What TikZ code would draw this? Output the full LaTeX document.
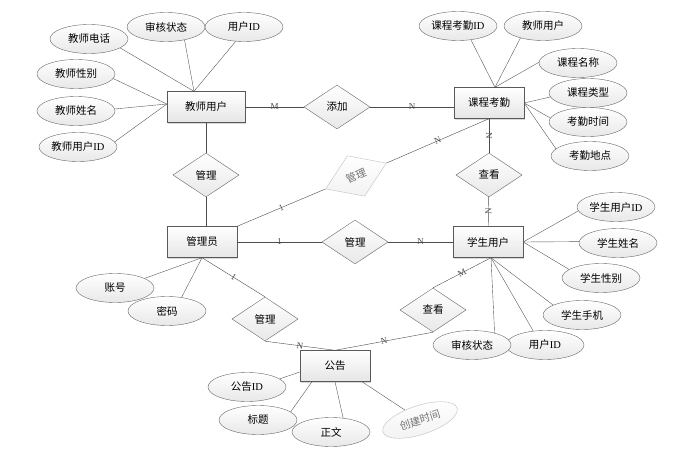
\documentclass[tikz,border=0pt]{standalone}
\usepackage{fontspec}
\setmainfont{Liberation Serif}
\newfontfamily\cjk{Noto Sans CJK SC}
\usetikzlibrary{shapes.geometric,shadows}

\begin{document}
\begin{tikzpicture}
  [x=1pt,y=-1pt,
   every node/.style={font=\cjk\fontsize{10.5}{12}\selectfont},
   entity/.style={rectangle,draw=black!65,top color=white,bottom color=black!10,
     minimum width=70pt,minimum height=31pt,inner sep=0pt,
     drop shadow={shadow xshift=1.2pt,shadow yshift=-1.2pt,opacity=.3}},
   attr/.style={ellipse,draw=black!60,top color=white,bottom color=black!9,
     minimum width=78pt,minimum height=29pt,inner sep=0pt},
   rel/.style={diamond,draw=black!60,top color=white,bottom color=black!9,
     minimum width=66pt,minimum height=44pt,inner sep=0pt},
   faded/.style={draw=black!25,text=black!55,bottom color=black!5},
   card/.style={font=\fontsize{9}{9}\selectfont,sloped,inner sep=0pt}]
  \useasboundingbox (0,0) rectangle (688,457);

  % entities
  \node[entity,minimum width=78pt] (teacher) at (206,107) {教师用户};
  \node[entity] (course)  at (489,103) {课程考勤};
  \node[entity] (admin)   at (202,242) {管理员};
  \node[entity] (student) at (488,242) {学生用户};
  \node[entity] (notice)  at (335,366) {公告};

  % relations
  \node[rel] (add)   at (337,107) {添加};
  \node[rel] (mgr1)  at (206,175) {管理};
  \node[rel,faded,rotate=23] (mgr2) at (356,176) {管理};
  \node[rel] (look1) at (489,175) {查看};
  \node[rel] (mgr3)  at (355,242) {管理};
  \node[rel] (mgr4)  at (265,319) {管理};
  \node[rel] (look2) at (433,310) {查看};

  % attributes
  \node[attr] (tTel)   at (89,39)   {教师电话};
  \node[attr] (tAudit) at (166,27)  {审核状态};
  \node[attr] (tUid)   at (244,27)  {用户\textrm{ID}};
  \node[attr] (tSex)   at (76,74)   {教师性别};
  \node[attr] (tName)  at (76,111)  {教师姓名};
  \node[attr] (tId)    at (78,147)  {教师用户\textrm{ID}};

  \node[attr] (cId)     at (458,26)  {课程考勤\textrm{ID}};
  \node[attr] (cTeach)  at (543,26)  {教师用户};
  \node[attr] (cName)   at (578,63)  {课程名称};
  \node[attr] (cType)   at (588,93)  {课程类型};
  \node[attr] (cTime)   at (588,122) {考勤时间};
  \node[attr] (cPlace)  at (590,156) {考勤地点};

  \node[attr] (sId)    at (616,207) {学生用户\textrm{ID}};
  \node[attr] (sName)  at (618,243) {学生姓名};
  \node[attr] (sSex)   at (601,278) {学生性别};
  \node[attr] (sPhone) at (582,315) {学生手机};
  \node[attr] (sUid)   at (545,345) {用户\textrm{ID}};
  \node[attr] (sAudit) at (472,345) {审核状态};

  \node[attr] (aAcc)  at (115,288) {账号};
  \node[attr] (aPwd)  at (167,311) {密码};

  \node[attr] (nId)    at (247,387) {公告\textrm{ID}};
  \node[attr] (nTitle) at (258,420) {标题};
  \node[attr] (nText)  at (331,432) {正文};
  \node[attr,faded,rotate=18] (nTime) at (420,420) {创建时间};

  % meeting points on the entity boxes
  \coordinate (tTop)  at ([xshift=-12pt]teacher.north);
  \coordinate (tLeft) at ([yshift=3pt]teacher.west);
  \coordinate (cTop)  at ([xshift=6pt]course.north);
  \coordinate (sBot)  at ([xshift=3pt]student.south);
  \coordinate (nLeft) at ([yshift=-6pt]notice.west);
  \coordinate (nB1)   at ([xshift=-23pt]notice.south);
  \coordinate (nB2)   at ([xshift=27pt]notice.south);

\foreach \from/\to in
{tTel.-16/tTop, tAudit.-35/tTop, tUid.-120/tTop, tSex.-7/tLeft, tName.3/tLeft, tId.8/tLeft,
 cId.-47/cTop, cTeach.-152/cTop, cName.179/cTop, cType.186/course.east, cTime.174/course.east, cPlace.168/course.east,
 sId.186/student.east, sName.178/student.east, sSex.165/student.east, sPhone.161/sBot, sAudit.28/sBot, sUid.130/sBot,
 aAcc.18/admin.south, aPwd.43/admin.south, nId.14/nLeft, nTitle.14/nB1, nText.49/notice.south, nTime/nB2}
    \draw[black!65] (\from) -- (\to);

  % relationships
  \draw[black!70] (teacher) -- node[card] {M} (add);
  \draw[black!70] (add) -- node[card] {N} (add -| course.west);
  \draw[black!70] (teacher) -- (mgr1);
  \draw[black!70] (mgr1) -- (mgr1 |- admin.north);
  \draw[black!70] (admin.north east) -- node[card] {1} (mgr2.west);
  \draw[black!70] (mgr2.east) -- node[card] {N} (course.south);
  \draw[black!70] (course) -- node[card] {N} (look1);
  \draw[black!70] (look1) -- node[card] {N} (student);
  \draw[black!70] (admin) -- node[card] {1} (mgr3);
  \draw[black!70] (mgr3) -- node[card] {N} (student);
  \draw[black!70] (admin.south) -- node[card] {1} (mgr4.north);
  \draw[black!70] (mgr4.south) -- node[card] {N} (notice.north);
  \draw[black!70] (sBot) -- node[card] {M} (look2.north);
  \draw[black!70] (look2.south) -- node[card] {N} (notice.north);
\end{tikzpicture}
\end{document}
